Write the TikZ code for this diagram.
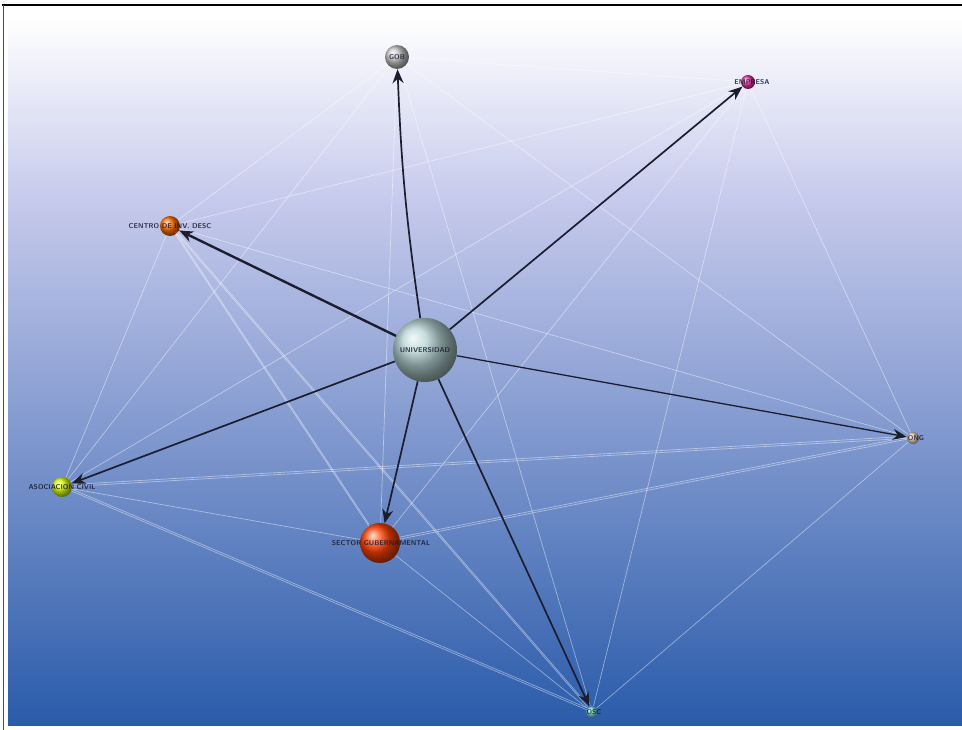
\documentclass[tikz,border=0pt]{standalone}
\usetikzlibrary{arrows.meta,shadings}
\definecolor{bgmid}{HTML}{C6CAEC}
\definecolor{bgbot}{HTML}{2A5BAA}
\definecolor{edgedark}{HTML}{1C1E30}
\definecolor{labcol}{HTML}{1A1A30}
\definecolor{unicol}{HTML}{B4D2D2}
\begin{document}
\begin{tikzpicture}[x=1pt,y=-1pt,
  sphere/.style={circle, inner sep=0pt, draw=none},
  lab/.style={font=\sffamily\bfseries\fontsize{7}{8}\selectfont, text=labcol, inner sep=0pt, opacity=0.85},
  faint/.style={draw=white, opacity=0.45, line width=0.7pt},
  strong/.style={draw=edgedark, line width=1.7pt, -{Stealth[length=14pt,width=11pt]}}]
\useasboundingbox (0,0) rectangle (962,730);
\shade[top color=white, bottom color=bgmid] (8,17) rectangle (962,200);
\shade[top color=bgmid, bottom color=bgbot] (8,199.5) rectangle (962,725);
\draw[black, line width=1.6pt] (2,5) -- (962,5);
\draw[black!70, line width=1pt] (3,5) -- (3,730);
% nodes
\node[sphere, minimum size=64pt, ball color=unicol] (U) at (425,350) {};
\node[sphere, minimum size=24pt, ball color=gray!45] (G) at (397,57) {};
\node[sphere, minimum size=14pt, ball color=purple!60!magenta!80!white] (E) at (748,82) {};
\node[sphere, minimum size=20pt, ball color=orange!85!red] (C) at (170,226) {};
\node[sphere, minimum size=12pt, ball color=brown!35!white] (R) at (913,438) {};
\node[sphere, minimum size=20pt, ball color=yellow!85!green] (A) at (62,487) {};
\node[sphere, minimum size=40pt, ball color=red!50!orange] (S) at (380,543) {};
\node[sphere, minimum size=12pt, ball color=gray!50!cyan!70!white] (B) at (592,712) {};
% faint edges
\foreach \a/\b in {G/C,G/R,G/A,G/S,G/B,E/C,E/R,E/A,E/S,E/B,C/R,C/A,C/S,C/B,R/A,R/S,R/B,A/S,A/B,S/B,G/E}
  \draw[faint] (\a) -- (\b);
\foreach \a/\b in {C/B,A/R,S/R,C/S,A/B}
  \draw[faint, transform canvas={yshift=2pt}] (\a) -- (\b);
% strong edges
\draw[strong] (U) to[bend left=3] (G);
\draw[strong] (U) -- (E);
\draw[strong, line width=2.4pt] (U) -- (C);
\draw[strong, line width=1.3pt] (U) -- (R);
\draw[strong] (U) -- (A);
\draw[strong] (U) -- (S);
\draw[strong] (U) -- (B);
% labels
\node[lab] (Ul) at (U) {UNIVERSIDAD};
\node[lab] (Gl) at (G) {GOB};
\node[lab] (El) at (752,82) {EMPRESA};
\node[lab] (Cl) at (170,226) {CENTRO DE INV. DESC};
\node[lab] (Rl) at (916,438) {ONG};
\node[lab] (Al) at (62,487) {ASOCIACION CIVIL};
\node[lab] (Sl) at (381,543) {SECTOR GUBERNAMENTAL};
\node[lab] (Bl) at (594,712) {OSC};
\end{tikzpicture}
\end{document}
